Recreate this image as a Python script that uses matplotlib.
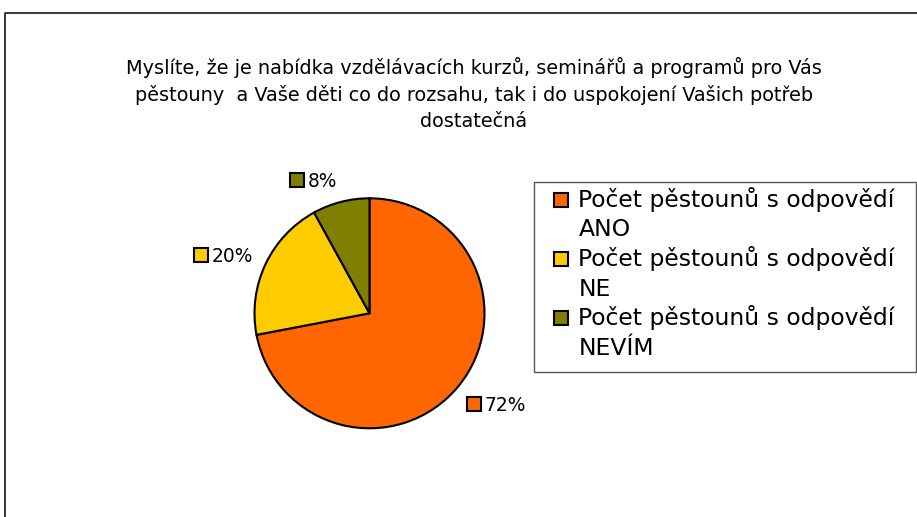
import matplotlib
matplotlib.use("Agg")
import matplotlib.pyplot as plt
from matplotlib.patches import Rectangle
from matplotlib.lines import Line2D

# ---- data ----
categories = ["Počet pěstounů s odpovědí\nANO",
              "Počet pěstounů s odpovědí\nNE",
              "Počet pěstounů s odpovědí\nNEVÍM"]
values = [72, 20, 8]
colors = ["#FF6600", "#FFCC00", "#808000"]
title_lines = ["Myslíte, že je nabídka vzdělávacích kurzů, seminářů a programů pro Vás",
               "pěstouny  a Vaše děti co do rozsahu, tak i do uspokojení Vašich potřeb",
               "dostatečná"]

W, H = 917, 517
plt.rcParams['font.family'] = ['DejaVu Sans']
fig = plt.figure(figsize=(W / 100, H / 100), dpi=100)
fig.patch.set_facecolor("white")


def fx(px):
    return px / W


def fy(py):
    return 1 - py / H


# outer frame (top and left edges visible)
fig.add_artist(Line2D([fx(4.5), fx(4.5), fx(W + 5)], [fy(H + 5), fy(13), fy(13)],
                      transform=fig.transFigure, color="#3a3a3a", lw=1.4))

# title (one text per line, baselines in px)
for line, base in zip(title_lines, [74.3, 100.8, 127.3]):
    fig.text(fx(474), fy(base), line, ha="center", va="baseline", fontsize=13.85,
             color="black")

# pie
cx, cy, r = 369.5, 313.3, 115.0
ax = fig.add_axes([fx(cx - r), fy(cy + r), fx(2 * r), (2 * r) / H])
wedges, _ = ax.pie(values, colors=colors, startangle=90, counterclock=False,
                   radius=1.0, wedgeprops=dict(edgecolor="black", linewidth=1.5))
ax.set_xlim(-1, 1)
ax.set_ylim(-1, 1)
ax.set_aspect("auto")
ax.axis("off")

# data labels with legend keys (key left edge, baseline in px)
label_pos = [(467, 411), (194, 262), (290, 187)]
box = 14
for v, c, (bx, base) in zip(values, colors, label_pos):
    fig.add_artist(Rectangle((fx(bx), fy(base)), fx(box), box / H,
                             transform=fig.transFigure, facecolor=c,
                             edgecolor="black", lw=1.5))
    fig.text(fx(bx + box + 4), fy(base), f"{v}%", ha="left", va="baseline",
             fontsize=13.4, color="black")

# legend
lx0, ly0, ly1 = 534, 182, 372
fig.add_artist(Rectangle((fx(lx0), fy(ly1)), fx(916 - lx0), (ly1 - ly0) / H,
                         transform=fig.transFigure, facecolor="none",
                         edgecolor="#555555", lw=1.0))
entry_base = [206.7, 266.0, 325.3]
line_step = 29.7
for cat, c, base in zip(categories, colors, entry_base):
    fig.add_artist(Rectangle((fx(554), fy(base)), fx(box), box / H,
                             transform=fig.transFigure, facecolor=c,
                             edgecolor="black", lw=1.5))
    for k, part in enumerate(cat.split("\n")):
        fig.text(fx(578.5), fy(base + k * line_step), part, ha="left", va="baseline",
                 fontsize=16.9, color="black")

fig.savefig("out.png", dpi=100, facecolor="white")
